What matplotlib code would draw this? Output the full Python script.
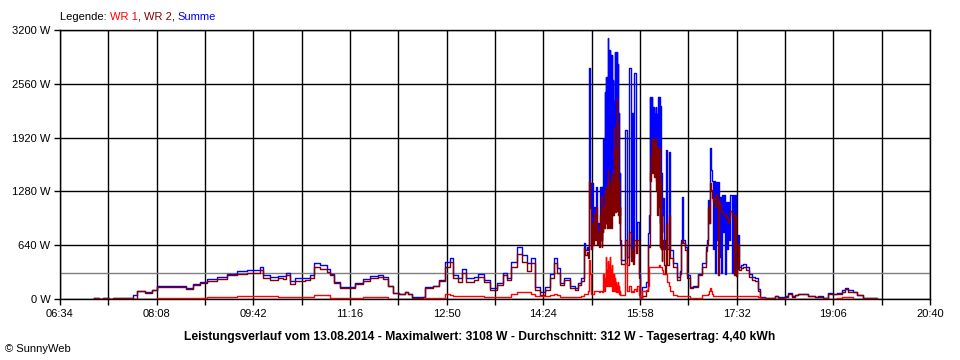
import matplotlib
matplotlib.use("Agg")
import matplotlib.pyplot as plt
from matplotlib.ticker import FixedLocator
import numpy as np

zeit = ["07:07", "07:12", "07:16", "07:22", "07:26", "07:37", "07:45", "07:49", "07:57", "08:03",
        "08:08", "08:21", "08:31", "08:37", "08:43", "08:50", "08:57", "09:07", "09:16", "09:26",
        "09:36", "09:46", "09:48", "09:51", "09:58", "10:06", "10:11", "10:14", "10:18", "10:23",
        "10:32", "10:37", "10:41", "10:47", "10:54", "10:57", "11:00", "11:06", "11:13", "11:21",
        "11:29", "11:35", "11:43", "11:48", "11:53", "11:58", "12:04", "12:09", "12:12", "12:16",
        "12:27", "12:29", "12:37", "12:43", "12:48", "12:53", "12:56", "13:01", "13:05", "13:09",
        "13:17", "13:20", "13:26", "13:32", "13:39", "13:45", "13:49", "13:53", "13:58", "14:03",
        "14:08", "14:12", "14:16", "14:21", "14:26", "14:30", "14:34", "14:37", "14:40", "14:44",
        "14:50", "14:55", "14:58", "15:01",
        # 15:04 - 15:18
        "15:04", "15:05", "15:06", "15:07", "15:08", "15:09", "15:10", "15:11", "15:12", "15:13",
        "15:14", "15:15", "15:16", "15:17", "15:18",
        # 15:19 - 15:40
        "15:19", "15:19:30", "15:20", "15:20:30", "15:21", "15:21:30", "15:22", "15:22:30",
        "15:23", "15:23:30", "15:24", "15:24:30", "15:25", "15:25:30", "15:26", "15:26:30",
        "15:27", "15:27:30", "15:28", "15:28:30", "15:29", "15:29:30", "15:30", "15:30:30",
        "15:31", "15:31:30", "15:32", "15:32:30", "15:33", "15:33:30", "15:34", "15:34:30",
        "15:35", "15:35:30", "15:36", "15:36:30", "15:37", "15:37:30", "15:38", "15:38:30",
        "15:39", "15:40",
        # 15:43 - 16:04
        "15:43", "15:45", "15:47", "15:49", "15:50", "15:51", "15:52", "15:54", "15:55", "15:57",
        "15:58", "16:00", "16:04",
        # 16:06 - 16:34
        "16:06",
        "16:07", "16:07:30", "16:08", "16:08:30", "16:09", "16:09:30", "16:10", "16:10:30",
        "16:11", "16:11:30", "16:12", "16:12:30", "16:13", "16:13:30", "16:14", "16:14:30",
        "16:15", "16:15:30", "16:16", "16:16:30", "16:17", "16:17:30", "16:18", "16:18:30",
        "16:19", "16:19:30", "16:20",
        "16:21", "16:22", "16:23", "16:24", "16:25", "16:26", "16:27", "16:30", "16:34",
        # 16:37 - 17:34
        "16:37", "16:38", "16:39", "16:40", "16:42", "16:44", "16:47", "16:50", "16:54", "16:58",
        "17:02", "17:03", "17:04", "17:05", "17:06", "17:07", "17:08", "17:09", "17:10", "17:11",
        "17:12", "17:13", "17:14", "17:15", "17:16", "17:17", "17:18", "17:19", "17:20", "17:21",
        "17:22", "17:23", "17:24", "17:25", "17:26", "17:27", "17:28", "17:29", "17:30", "17:31",
        "17:32", "17:33", "17:34",
        # Abend
        "17:36", "17:38", "17:41", "17:44", "17:47", "17:50", "17:53", "17:55",
        "18:00", "18:09", "18:12", "18:19", "18:22", "18:26", "18:29", "18:32", "18:41", "18:48",
        "18:51", "18:56", "19:01", "19:05", "19:10", "19:14", "19:17", "19:20", "19:25", "19:29",
        "19:35", "19:39", "19:48"]

wr1 = [0, 0, 0, 0, 0, 0, 3, 3, 3, 3,
       12, 12, 12, 12, 12, 12, 20, 20, 20, 35,
       35, 35, 35, 35, 35, 28, 28, 28, 28, 28,
       28, 28, 44, 44, 44, 12, 12, 12, 12, 12,
       25, 25, 25, 25, 3, 3, 3, 3, 3, 3,
       3, 8, 8, 10, 60, 45, 40, 40, 40, 40,
       30, 30, 25, 20, 20, 25, 25, 60, 87, 87,
       87, 60, 40, 40, 40, 45, 60, 50, 25, 25,
       25, 25, 25, 40,
       60, 60, 60, 100, 460, 300, 60, 60, 60, 90,
       100, 100, 100, 100, 80,
       100, 100, 100, 100, 80, 80, 150, 300,
       100, 250, 200, 500, 150, 350, 200, 450,
       150, 400, 250, 500, 150, 350, 200, 400,
       100, 300, 150, 300, 100, 250, 100, 200,
       80, 150, 100, 200, 80, 150, 60, 100,
       50, 50,
       430, 100, 150, 80, 100, 80, 120, 100, 150, 50,
       0, 100, 110,
       150,
       380, 380, 380, 380, 380, 380, 380, 380,
       380, 380, 380, 380, 380, 380, 380, 380,
       380, 380, 400, 400, 380, 380, 380, 380,
       350, 350, 300,
       300, 300, 300, 200, 200, 150, 100, 50, 40,
       35, 35, 35, 35, 35, 35, 12, 12, 12, 50,
       50, 50, 60, 100, 130, 100, 60, 40, 40, 40,
       40, 40, 40, 40, 40, 40, 40, 40, 40, 40,
       40, 40, 40, 40, 40, 40, 40, 40, 40, 40,
       40, 40, 40,
       35, 35, 35, 35, 35, 35, 20, 10,
       3, 3, 3, 3, 5, 5, 5, 5, 5, 3,
       3, 3, 5, 5, 10, 20, 20, 20, 5, 3,
       3, 0, 0]

wr2 = [8, 0, 10, 0, 12, 8, 0, 92, 77, 104,
       138, 143, 138, 115, 163, 188, 218, 240, 280, 295,
       305, 315, 345, 255, 230, 247, 242, 287, 182, 217,
       222, 252, 381, 356, 316, 288, 188, 128, 128, 178,
       215, 250, 260, 235, 157, 72, 62, 84, 57, 17,
       22, 132, 152, 216, 384, 439, 245, 206, 313, 206,
       230, 263, 205, 107, 167, 280, 225, 384, 535, 436,
       338, 424, 106, 47, 106, 255, 424, 315, 165, 221,
       135, 105, 165, 210,
       606, 523, 560, 483, 1400, 1080, 590, 900, 640, 1010,
       700, 1100, 650, 800, 620,
       800, 1000, 700, 1230, 620, 900, 800, 1100,
       850, 1300, 900, 1330, 900, 1200, 850, 1535,
       900, 1300, 850, 1400, 950, 1250, 850, 1490,
       1000, 1350, 1000, 2050, 1050, 1400, 1030, 1800,
       1080, 2390, 1050, 2090, 1000, 1400, 900, 1100,
       650, 414,
       700, 400, 800, 450, 600, 420, 700, 550, 700, 250,
       10, 40, 90,
       635,
       620, 1500, 1400, 1700, 1500, 1900, 1600, 1900,
       1500, 1900, 1450, 1800, 1500, 1900, 1300, 1800,
       1000, 1800, 1100, 1800, 620, 1400, 600, 1000,
       450, 600, 700,
       400, 300, 900, 400, 400, 1000, 483, 378, 222,
       295, 665, 700, 665, 585, 250, 128, 148, 288, 380,
       570, 650, 1100, 900, 1380, 1300, 1200, 1150, 1200, 1100,
       1250, 1200, 285, 1150, 1100, 1050, 1050, 1000, 1000, 980,
       1000, 950, 900, 950, 1050, 1000, 1000, 285, 1000, 270,
       360, 650, 340,
       365, 385, 345, 265, 227, 215, 100, 15,
       7, 37, 17, 27, 63, 25, 43, 55, 35, 22,
       27, 12, 63, 55, 65, 87, 115, 87, 82, 45,
       12, 10, 0]

summe = [8, 0, 10, 0, 12, 8, 50, 95, 80, 107,
         150, 155, 150, 127, 175, 200, 238, 260, 300, 330,
         340, 350, 380, 290, 265, 275, 270, 315, 210, 245,
         250, 280, 425, 400, 360, 300, 200, 140, 140, 190,
         240, 275, 285, 260, 160, 75, 65, 87, 60, 20,
         25, 140, 160, 226, 444, 484, 285, 246, 353, 246,
         260, 293, 230, 127, 187, 305, 250, 444, 622, 523,
         425, 484, 146, 87, 146, 300, 484, 365, 190, 246,
         160, 130, 190, 250,
         666, 583, 620, 583, 2750, 1380, 650, 1380, 700, 1100,
         800, 1330, 750, 900, 700,
         900, 1330, 800, 1330, 700, 1330, 975, 1900,
         975, 2460, 1000, 2640, 1000, 2640, 1000, 3108,
         1050, 2960, 1000, 2960, 1100, 2900, 1000, 2900,
         1150, 2600, 1150, 2360, 1200, 2940, 1150, 2940,
         1200, 2940, 1150, 2800, 1100, 2210, 1000, 1500,
         700, 464,
         2010, 500, 2750, 600, 2210, 500, 2690, 700, 916, 300,
         10, 140, 200,
         785,
         1000, 2400, 1500, 2400, 1700, 2400, 1800, 2280,
         1900, 2280, 1800, 2200, 1700, 2280, 1400, 2200,
         1400, 2400, 1500, 2400, 900, 2300, 800, 1500,
         800, 1000, 1200,
         700, 600, 1773, 600, 600, 1750, 583, 428, 262,
         330, 700, 1213, 700, 620, 285, 140, 160, 300, 430,
         620, 700, 1178, 900, 1797, 1535, 1400, 600, 1400, 310,
         1392, 700, 1392, 500, 1213, 310, 1240, 800, 1240, 300,
         1150, 600, 1150, 700, 1240, 310, 1240, 500, 1240, 310,
         400, 760, 380,
         400, 420, 380, 300, 262, 250, 120, 25,
         10, 40, 20, 30, 68, 30, 48, 60, 40, 25,
         30, 15, 68, 60, 75, 107, 135, 107, 87, 48,
         15, 10, 0]

x_labels = ["06:34", "08:08", "09:42", "11:16", "12:50", "14:24", "15:58", "17:32", "19:06", "20:40"]
y_werte = [0, 640, 1280, 1920, 2560, 3200]
durchschnitt = 312

titel = "Leistungsverlauf vom 13.08.2014 - Maximalwert: 3108 W - Durchschnitt: 312 W - Tagesertrag: 4,40 kWh"

assert len(zeit) == len(wr1) == len(wr2) == len(summe)


def to_min(s):
    teile = [int(p) for p in s.split(":")]
    return teile[0] * 60 + teile[1] + (teile[2] / 60 if len(teile) > 2 else 0)


t = np.array([to_min(z) for z in zeit])
major = [to_min(s) for s in x_labels]
minor = [(a + b) / 2 for a, b in zip(major[:-1], major[1:])]

plt.rcParams["font.family"] = ["Liberation Sans", "DejaVu Sans"]
fig = plt.figure(figsize=(9.6, 3.6), dpi=100)
ax = fig.add_axes([60 / 960, 61 / 360, 870 / 960, 269 / 360])

ax.plot(t, summe, color="#0000ff", lw=1.0, drawstyle="steps-post", zorder=3)
ax.plot(t, wr2, color="#800000", lw=1.0, drawstyle="steps-post", zorder=4)
ax.plot(t, wr1, color="#ff0000", lw=1.0, drawstyle="steps-post", zorder=5)
ax.axhline(durchschnitt, color="#808080", lw=1.0, zorder=2)

ax.set_xlim(major[0], major[-1])
ax.set_ylim(0, 3200)
ax.xaxis.set_major_locator(FixedLocator(major))
ax.xaxis.set_minor_locator(FixedLocator(minor))
ax.set_xticklabels(x_labels)
ax.set_yticks(y_werte)
ax.set_yticklabels([f"{v} W" for v in y_werte])
ax.grid(which="both", axis="x", color="black", lw=1.0)
ax.grid(which="major", axis="y", color="black", lw=1.0)
ax.set_axisbelow(True)
ax.tick_params(which="both", direction="out", length=4, width=1.0, labelsize=8, pad=3)
for sp in ax.spines.values():
    sp.set_linewidth(1.0)

# Legende in mehreren Farben
legende = [("Legende: ", "black"), ("WR 1", "#ff0000"), (", ", "black"),
           ("WR 2", "#800000"), (", ", "black"), ("Summe", "#0000ff")]
txt = fig.text(60 / 960, 1 - 22 / 360, legende[0][0], color=legende[0][1], fontsize=8, va="bottom")
for s, c in legende[1:]:
    txt = ax.annotate(s, xy=(1, 0), xycoords=txt, va="bottom", ha="left", color=c,
                      fontsize=8, annotation_clip=False)

fig.text(480 / 960, 1 - 337 / 360, titel, ha="center", va="center", fontsize=8.7, fontweight="bold")
fig.text(5 / 960, 1 - 349 / 360, "\u00a9 SunnyWeb", ha="left", va="center", fontsize=8)

fig.savefig("out.png", dpi=100)
